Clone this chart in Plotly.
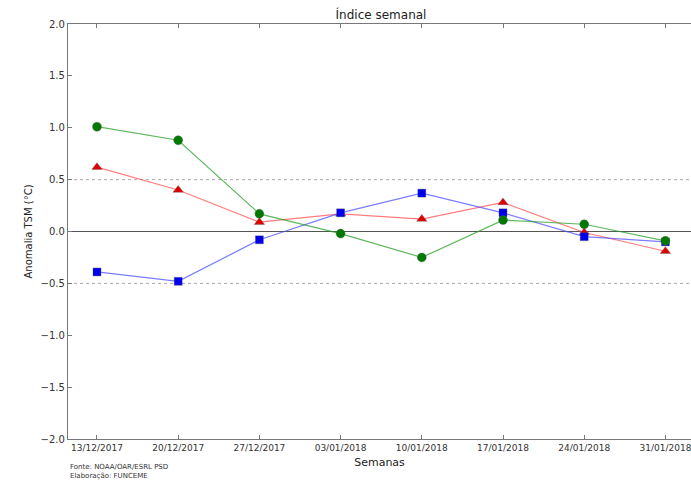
import plotly.graph_objects as go

# Weekly sea-surface temperature anomaly index
semanas = ["13/12/2017", "20/12/2017", "27/12/2017", "03/01/2018",
           "10/01/2018", "17/01/2018", "24/01/2018", "31/01/2018"]
serie_vermelha = [0.62, 0.40, 0.09, 0.17, 0.12, 0.28, -0.01, -0.19]
serie_azul = [-0.39, -0.48, -0.08, 0.18, 0.37, 0.18, -0.05, -0.10]
serie_verde = [1.01, 0.88, 0.17, -0.02, -0.25, 0.11, 0.07, -0.09]
yticks = [-2.0, -1.5, -1.0, -0.5, 0.0, 0.5, 1.0, 1.5, 2.0]

FONT = "DejaVu Sans"
idx = list(range(len(semanas)))

fig = go.Figure()

# reference lines: solid at zero, dotted at +/-0.5
fig.add_hline(y=0, line=dict(color="#555555", width=1.2), layer="below")
for lvl in (0.5, -0.5):
    fig.add_hline(y=lvl, line=dict(color="#aaaaaa", width=1, dash="dot"), layer="below")

series = [
    (serie_vermelha, "rgba(255,80,80,0.75)", "#e00000", "triangle-up", 9),
    (serie_azul, "rgba(80,80,255,0.75)", "#0000ee", "square", 8),
    (serie_verde, "rgba(40,160,40,0.75)", "#007a00", "circle", 9),
]
for vals, lc, mc, sym, ms in series:
    fig.add_trace(go.Scatter(
        x=idx, y=vals, mode="lines+markers",
        line=dict(color=lc, width=1.2),
        marker=dict(symbol=sym, size=ms, color=mc,
                    line=dict(color="rgba(90,90,90,0.6)", width=0.6)),
        showlegend=False, hoverinfo="skip",
    ))

fig.update_layout(
    width=691, height=481,
    margin=dict(l=68, r=0, t=24, b=42),
    paper_bgcolor="white", plot_bgcolor="white",
    font=dict(family=FONT, color="#333333"),
    title=dict(text="Índice semanal", x=(68 + 694) / 2 / 691, xanchor="center",
               y=1 - 15 / 481, yanchor="middle",
               font=dict(family=FONT, size=12, color="#222222")),
    xaxis=dict(
        tickmode="array", tickvals=idx, ticktext=semanas,
        range=[-0.357, 7.315],
        showgrid=False, zeroline=False,
        showline=True, linecolor="#777777", linewidth=1.2, mirror="ticks",
        ticks="inside", ticklen=4, tickcolor="#777777",
        ticklabeloverflow="allow",
        tickfont=dict(family=FONT, size=9, color="#333333"),
        title=dict(text="Semanas", font=dict(family=FONT, size=11, color="#222222"),
                   standoff=6),
    ),
    yaxis=dict(
        tickmode="array", tickvals=yticks,
        ticktext=[f"{v:.1f}".replace("-", "\u2212") for v in yticks],
        range=[-2.0, 2.0],
        showgrid=False, zeroline=False,
        showline=True, linecolor="#777777", linewidth=1.2,
        ticks="inside", ticklen=4, tickcolor="#777777",
        tickfont=dict(family=FONT, size=10, color="#333333"),
        title=dict(text="Anomalia TSM (°C)", font=dict(family=FONT, size=10, color="#222222"),
                   standoff=6),
    ),
)

fig.add_annotation(
    text="Fonte: NOAA/OAR/ESRL PSD<br>Elaboração: FUNCEME",
    xref="paper", yref="paper", x=0, y=-22 / 415, xanchor="left", yanchor="top",
    align="left", showarrow=False,
    font=dict(family=FONT, size=7, color="#333333"),
)

fig.write_html("out.html")
